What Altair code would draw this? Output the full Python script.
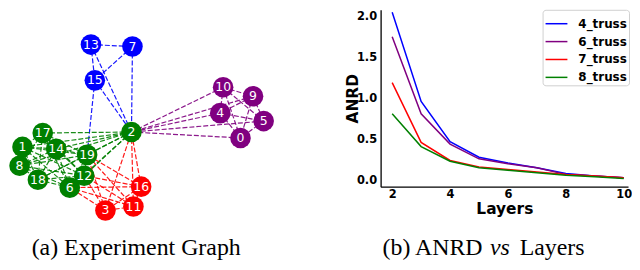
import altair as alt
import pandas as pd

# ---------------- network (panel a) ----------------
node_ids = [13, 7, 15, 10, 9, 4, 5, 0, 2, 17, 1, 14, 19, 8, 12, 18, 6, 16, 11, 3]
node_x = [85, 128, 89, 222, 253, 219, 264, 240, 127, 35, 14, 49, 81, 11, 78, 30, 63, 137, 129, 100]
node_y = [43, 45, 79, 86, 95, 112, 120, 137, 131, 132, 146, 148, 154, 165, 175, 179, 187, 186, 206, 210]
node_group = ["blue", "blue", "blue",
              "purple", "purple", "purple", "purple", "purple",
              "green", "green", "green", "green", "green", "green", "green", "green", "green",
              "red", "red", "red"]

edge_src = [13, 13, 13, 7, 7, 15, 15,
            10, 10, 10, 10, 9, 9, 9, 4, 4, 5, 10, 9, 4, 5, 0,
            2, 2, 2, 2, 2, 2, 2, 2, 17, 17, 17, 17, 17, 17, 17, 1, 1, 1, 1, 1, 1,
            14, 14, 14, 14, 14, 19, 19, 19, 19, 8, 8, 8, 12, 12, 18,
            16, 16, 11, 16, 11, 3, 16, 16, 16, 11, 11, 11, 3, 3, 3]
edge_dst = [7, 15, 2, 15, 2, 2, 19,
            9, 4, 5, 0, 4, 5, 0, 5, 0, 0, 2, 2, 2, 2, 2,
            17, 1, 14, 19, 8, 12, 18, 6, 1, 14, 19, 8, 12, 18, 6, 14, 19, 8, 12, 18, 6,
            19, 8, 12, 18, 6, 8, 12, 18, 6, 12, 18, 6, 18, 6, 6,
            11, 3, 3, 2, 2, 2, 19, 12, 6, 19, 12, 6, 19, 12, 6]
edge_group = (["blue"] * 7 + ["purple"] * 15 + ["green"] * 36 + ["red"] * 15)

group_names = ["blue", "purple", "green", "red"]
group_colors = ["#0000ff", "#800080", "#008000", "#ff0000"]

pos = {n: (x, y) for n, x, y in zip(node_ids, node_x, node_y)}
nodes_df = pd.DataFrame({"id": [str(n) for n in node_ids], "x": node_x, "y": node_y, "g": node_group})
edges_df = pd.DataFrame({
    "x1": [pos[a][0] for a in edge_src], "y1": [pos[a][1] for a in edge_src],
    "x2": [pos[b][0] for b in edge_dst], "y2": [pos[b][1] for b in edge_dst],
    "g": edge_group,
})

gx = alt.Scale(domain=[-1, 308])
gy = alt.Scale(domain=[8, 228], reverse=True)
gc = alt.Scale(domain=group_names, range=group_colors)

edges = alt.Chart(edges_df).mark_rule(strokeWidth=1.2, opacity=0.9, strokeDash=[5, 2]).encode(
    x=alt.X("x1:Q", scale=gx, axis=None),
    y=alt.Y("y1:Q", scale=gy, axis=None),
    x2="x2:Q", y2="y2:Q",
    color=alt.Color("g:N", scale=gc, legend=None),
)
nodes = alt.Chart(nodes_df).mark_circle(size=430, opacity=1).encode(
    x=alt.X("x:Q", scale=gx, axis=None),
    y=alt.Y("y:Q", scale=gy, axis=None),
    color=alt.Color("g:N", scale=gc, legend=None),
)
labels = alt.Chart(nodes_df).mark_text(color="white", fontSize=12.5, font="DejaVu Sans",
                                       align="center", baseline="middle").encode(
    x=alt.X("x:Q", scale=gx, axis=None),
    y=alt.Y("y:Q", scale=gy, axis=None),
    text="id:N",
)
caption_a = ["(a) Experiment Graph"]
cap_a = alt.Chart(pd.DataFrame({"t": caption_a})).mark_text(
    font="Liberation Serif", fontSize=24, align="center", baseline="alphabetic", color="black"
).encode(text="t:N", x=alt.value(129), y=alt.value(247))

left = alt.layer(edges, nodes, labels, cap_a).properties(width=300, height=220)

# ---------------- line chart (panel b) ----------------
layers = [2, 3, 4, 5, 6, 7, 8, 9, 10]
series_names = ["4_truss", "6_truss", "7_truss", "8_truss"]
series_colors = ["#0000ff", "#800080", "#ff0000", "#008000"]
truss4 = [2.05, 0.96, 0.47, 0.28, 0.21, 0.15, 0.08, 0.05, 0.03]
truss6 = [1.75, 0.81, 0.44, 0.26, 0.20, 0.15, 0.07, 0.05, 0.03]
truss7 = [1.19, 0.46, 0.24, 0.16, 0.13, 0.10, 0.07, 0.05, 0.03]
truss8 = [0.81, 0.41, 0.23, 0.15, 0.12, 0.09, 0.06, 0.04, 0.02]

rows = []
for name, vals in zip(series_names, [truss4, truss6, truss7, truss8]):
    for l, v in zip(layers, vals):
        rows.append({"Layers": l, "ANRD": v, "series": name})
line_df = pd.DataFrame(rows)

lines = alt.Chart(line_df).mark_line(strokeWidth=1.5).encode(
    x=alt.X("Layers:Q", scale=alt.Scale(domain=[1.6, 10.15], nice=False, zero=False),
            axis=alt.Axis(values=[2, 4, 6, 8, 10], format="d", title="Layers",
                          titleY=27, titleBaseline="alphabetic", labelPadding=2)),
    y=alt.Y("ANRD:Q", scale=alt.Scale(domain=[-0.08, 2.08], nice=False, zero=False),
            axis=alt.Axis(values=[0.0, 0.5, 1.0, 1.5, 2.0], format=".1f", title="ANRD",
                          titleX=-28, titleY=89, titleAngle=270, titleBaseline="middle",
                          titleAlign="center", labelPadding=4)),
    color=alt.Color("series:N", scale=alt.Scale(domain=series_names, range=series_colors),
                    sort=series_names,
                    legend=alt.Legend(title=None, orient="none", legendX=163, legendY=0)),
    order=alt.Order("Layers:Q"),
)

caption_b1 = ["(b) ANRD"]
caption_b2 = ["vs"]
caption_b3 = ["Layers"]
cap_b1 = alt.Chart(pd.DataFrame({"t": caption_b1})).mark_text(
    font="Liberation Serif", fontSize=24, align="left", baseline="alphabetic", color="black"
).encode(text="t:N", x=alt.value(2), y=alt.value(247))
cap_b2 = alt.Chart(pd.DataFrame({"t": caption_b2})).mark_text(
    font="Liberation Serif", fontSize=24, fontStyle="italic", align="left", baseline="alphabetic", color="black"
).encode(text="t:N", x=alt.value(110), y=alt.value(247))
cap_b3 = alt.Chart(pd.DataFrame({"t": caption_b3})).mark_text(
    font="Liberation Serif", fontSize=24, align="left", baseline="alphabetic", color="black"
).encode(text="t:N", x=alt.value(140), y=alt.value(247))

right = alt.layer(lines, cap_b1, cap_b2, cap_b3).properties(width=249, height=178)

chart = alt.hconcat(left, right, spacing=75, bounds="flush").resolve_scale(
    color="independent"
).properties(
    padding=0
).configure_view(stroke=None).configure_axis(
    grid=False, ticks=False, domainColor="black", domainWidth=1.3,
    labelFont="DejaVu Sans", labelFontWeight="bold", labelFontSize=11.5, labelColor="black",
    titleFont="DejaVu Sans", titleFontWeight="bold", titleFontSize=15.5, titleColor="black",
).configure_legend(
    symbolType="stroke", symbolSize=484, symbolStrokeWidth=1.5, labelOffset=10,
    labelFont="DejaVu Sans", labelFontWeight="bold", labelFontSize=12, labelColor="black",
    strokeColor="#d0d0d0", fillColor="white", cornerRadius=3, padding=2, rowPadding=-9,
)

chart.save("out.html", embed_options={"renderer": "svg", "actions": False})
